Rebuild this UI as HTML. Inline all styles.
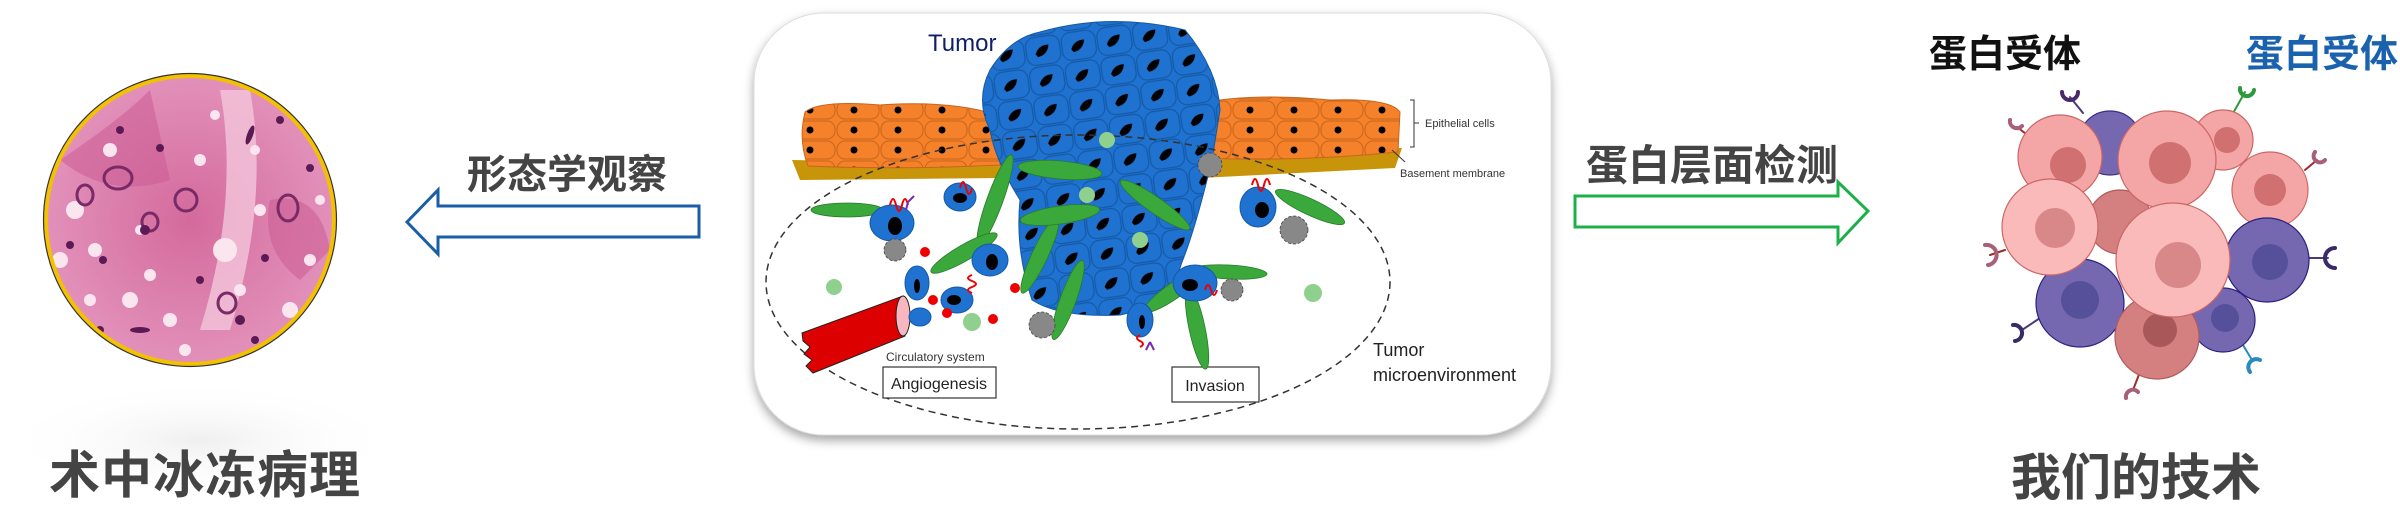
<!DOCTYPE html>
<html><head><meta charset="utf-8"><style>
html,body{margin:0;padding:0;background:#fff;}
body{width:2400px;height:522px;overflow:hidden;}
svg text{font-family:"Liberation Sans","Noto Sans CJK SC",sans-serif;}
</style></head><body>
<svg width="2400" height="522" viewBox="0 0 2400 522" xmlns="http://www.w3.org/2000/svg">
<defs>
<pattern id="tum" width="36" height="30" patternUnits="userSpaceOnUse" patternTransform="rotate(-8)">
<rect width="36" height="30" fill="#1f72d0"/>
<rect x="1" y="1" width="34" height="28" rx="9" fill="#1f72d0" stroke="#1559a6" stroke-width="1.2"/>
<path d="M10,18 Q14,9 24,10 Q22,20 12,21Z" fill="#000"/>
</pattern>
<pattern id="ora" width="44" height="20" patternUnits="userSpaceOnUse">
<rect width="44" height="20" fill="#f5822a"/>
<rect x="1" y="1" width="42" height="18" rx="8" fill="#f5822a" stroke="#c8651c" stroke-width="1"/>
<circle cx="18" cy="10" r="3.5" fill="#000"/>
</pattern>
<radialGradient id="tis" cx="0.5" cy="0.5" r="0.5">
<stop offset="0" stop-color="#d46a9c"/><stop offset="1" stop-color="#e291ba"/>
</radialGradient>
<clipPath id="cc"><circle cx="190" cy="220" r="144"/></clipPath>
<filter id="sh" x="-10%" y="-10%" width="120%" height="125%"><feDropShadow dx="0" dy="5" stdDeviation="5" flood-color="#000" flood-opacity="0.35"/></filter>
<radialGradient id="gsh" cx="0.5" cy="0.5" r="0.5"><stop offset="0" stop-color="#efefef"/><stop offset="1" stop-color="#fff" stop-opacity="0"/></radialGradient>
</defs>

<ellipse cx="200" cy="440" rx="200" ry="60" fill="url(#gsh)"/>
<circle cx="190" cy="220" r="146" fill="url(#tis)"/>
<g clip-path="url(#cc)">
<path d="M60,160 Q120,120 150,90 L170,180 Q110,200 60,160Z" fill="#c9588f" opacity="0.5"/>
<path d="M220,90 Q240,200 200,330 L230,330 Q270,200 250,90Z" fill="#f4c6db" opacity="0.8"/>
<path d="M270,200 Q320,190 330,250 L300,280 Q260,250 270,200Z" fill="#c9588f" opacity="0.5"/>
<g fill="#fbe6f0">
<circle cx="75" cy="210" r="9"/><circle cx="95" cy="250" r="7"/><circle cx="130" cy="300" r="8"/><circle cx="150" cy="275" r="6"/>
<circle cx="170" cy="320" r="7"/><circle cx="225" cy="250" r="12"/><circle cx="240" cy="290" r="6"/><circle cx="110" cy="150" r="7"/>
<circle cx="200" cy="160" r="6"/><circle cx="255" cy="150" r="5"/><circle cx="290" cy="310" r="8"/><circle cx="320" cy="200" r="5"/>
<circle cx="60" cy="260" r="8"/><circle cx="140" cy="230" r="5"/><circle cx="260" cy="210" r="6"/><circle cx="185" cy="350" r="6"/>
<circle cx="90" cy="300" r="6"/><circle cx="215" cy="115" r="5"/><circle cx="310" cy="260" r="6"/>
</g>
<g fill="none" stroke="#7a2a66" stroke-width="3">
<ellipse cx="118" cy="178" rx="14" ry="11"/><ellipse cx="186" cy="200" rx="11" ry="11"/><ellipse cx="288" cy="208" rx="10" ry="13"/>
<ellipse cx="85" cy="195" rx="8" ry="10"/><ellipse cx="227" cy="303" rx="9" ry="10"/><ellipse cx="150" cy="222" rx="8" ry="9"/>
</g>
<g fill="#5c1a55">
<circle cx="145" cy="230" r="5"/><circle cx="103" cy="260" r="4"/><circle cx="160" cy="148" r="4"/><circle cx="265" cy="258" r="4"/>
<circle cx="240" cy="320" r="5"/><circle cx="120" cy="130" r="4"/><circle cx="310" cy="168" r="4"/><circle cx="70" cy="245" r="4"/>
<circle cx="200" cy="280" r="4"/><circle cx="100" cy="330" r="4"/><circle cx="280" cy="120" r="4"/><circle cx="255" cy="340" r="4"/>
<ellipse cx="250" cy="135" rx="3" ry="10" transform="rotate(20 250 135)"/><ellipse cx="140" cy="330" rx="10" ry="3"/>
</g>
</g>
<circle cx="190" cy="220" r="144" fill="none" stroke="#f2c200" stroke-width="4"/>
<circle cx="190" cy="220" r="146.5" fill="none" stroke="#333" stroke-width="1.2"/>
<text x="205" y="493" text-anchor="middle" font-size="51" font-weight="bold" fill="#444" letter-spacing="1">术中冰冻病理</text>

<path d="M407,222 L438,190 L438,206 L699,206 L699,237 L438,237 L438,254 Z" fill="#fff" stroke="#1a5ea8" stroke-width="3"/>
<text x="567" y="188" text-anchor="middle" font-size="40" font-weight="bold" fill="#444">形态学观察</text>

<rect x="754" y="13" width="797" height="422" rx="70" fill="#fff" stroke="#ddd" stroke-width="1" filter="url(#sh)"/>
<text x="928" y="51" font-size="24" fill="#0d1f6a">Tumor</text>
<path d="M792,160 L1000,164 L1200,152 L1402,148 L1395,168 L1200,178 L1000,178 L800,180 Z" fill="#c8940a"/>
<path d="M805,112 Q820,100 880,105 Q950,100 998,115 L1000,165 Q900,170 808,166 Q798,140 805,112Z" fill="url(#ora)" stroke="#c8651c"/>
<path d="M1190,105 Q1250,92 1330,100 Q1390,98 1400,112 L1398,152 Q1300,162 1200,158 Z" fill="url(#ora)" stroke="#c8651c"/>
<path d="M1040,32 Q1110,12 1185,30 Q1218,70 1220,110 L1212,160 Q1195,230 1182,262 Q1170,305 1120,315 Q1060,318 1032,300 Q1015,250 1020,200 Q995,160 990,130 Q975,100 990,70 Q1010,38 1040,32Z" fill="url(#tum)" stroke="#1559a6"/>
<ellipse cx="1078" cy="282" rx="312" ry="147" fill="none" stroke="#333" stroke-width="1.5" stroke-dasharray="7,5"/>
<path d="M1410,100 L1414,100 L1414,147 L1410,147 M1414,123 L1419,123" stroke="#333" fill="none"/>
<text x="1425" y="127" font-size="11" fill="#333">Epithelial cells</text>
<path d="M1392,150 L1405,162" stroke="#333"/>
<text x="1400" y="177" font-size="11" fill="#333">Basement membrane</text>
<text x="1373" y="356" font-size="18" fill="#222">Tumor</text>
<text x="1373" y="381" font-size="18" fill="#222">microenvironment</text>
<text x="886" y="361" font-size="12" fill="#333">Circulatory system</text>
<rect x="883" y="367" width="113" height="31" fill="#fff" stroke="#333" stroke-width="1.2"/>
<text x="939" y="389" text-anchor="middle" font-size="16" fill="#222">Angiogenesis</text>
<rect x="1172" y="367" width="87" height="35" fill="#fff" stroke="#333" stroke-width="1.2"/>
<text x="1215" y="391" text-anchor="middle" font-size="16" fill="#222">Invasion</text>
<path d="M802,333 L903,296 L905,336 L813,373 L806,366 L812,360 L804,354 L810,347 L803,341 Z" fill="#dd0000" stroke="#222"/>
<ellipse cx="903" cy="316" rx="7" ry="20" fill="#f8b7c0" stroke="#222"/>
<g fill="#3aa83a" stroke="#2a7a2a" stroke-width="0.8">
<ellipse cx="847" cy="210" rx="36" ry="7"/>
<ellipse cx="995" cy="200" rx="8" ry="48" transform="rotate(20 995 200)"/>
<ellipse cx="1060" cy="170" rx="42" ry="9" transform="rotate(5 1060 170)"/>
<ellipse cx="1040" cy="255" rx="8" ry="42" transform="rotate(25 1040 255)"/>
<ellipse cx="1060" cy="215" rx="40" ry="9" transform="rotate(-8 1060 215)"/>
<ellipse cx="964" cy="253" rx="38" ry="8" transform="rotate(-30 964 253)"/>
<ellipse cx="1155" cy="205" rx="42" ry="8" transform="rotate(35 1155 205)"/>
<ellipse cx="1310" cy="207" rx="38" ry="8" transform="rotate(25 1310 207)"/>
<ellipse cx="1229" cy="272" rx="38" ry="7" transform="rotate(3 1229 272)"/>
<ellipse cx="1175" cy="290" rx="38" ry="8" transform="rotate(-35 1175 290)"/>
<ellipse cx="1197" cy="328" rx="8" ry="42" transform="rotate(-12 1197 328)"/>
<ellipse cx="1068" cy="300" rx="8" ry="42" transform="rotate(20 1068 300)"/>
</g>
<g fill="#1f72d0" stroke="#1559a6">
<ellipse cx="892" cy="223" rx="22" ry="18"/><ellipse cx="960" cy="197" rx="16" ry="14"/><ellipse cx="917" cy="283" rx="12" ry="17"/>
<ellipse cx="957" cy="300" rx="16" ry="13"/><ellipse cx="920" cy="317" rx="11" ry="9"/><ellipse cx="990" cy="260" rx="18" ry="16"/>
<ellipse cx="1258" cy="207" rx="18" ry="20"/><ellipse cx="1195" cy="283" rx="22" ry="18"/><ellipse cx="1140" cy="320" rx="13" ry="17"/>
</g>
<g fill="#000">
<ellipse cx="895" cy="226" rx="7" ry="9"/><ellipse cx="960" cy="198" rx="7" ry="5"/><ellipse cx="917" cy="286" rx="3" ry="7"/>
<ellipse cx="954" cy="300" rx="7" ry="5"/><ellipse cx="992" cy="262" rx="6" ry="8"/><ellipse cx="1262" cy="210" rx="7" ry="8"/>
<ellipse cx="1190" cy="285" rx="8" ry="6"/><ellipse cx="1142" cy="322" rx="3" ry="7"/>
</g>
<g fill="#e00">
<circle cx="925" cy="252" r="5"/><circle cx="933" cy="300" r="5"/><circle cx="947" cy="313" r="5"/><circle cx="993" cy="319" r="5"/><circle cx="1015" cy="288" r="5"/>
</g>
<g fill="#888" stroke="#444" stroke-width="0.8">
<circle cx="895" cy="250" r="11" stroke-dasharray="3,2"/><circle cx="1042" cy="325" r="13" stroke-dasharray="3,2"/>
<circle cx="1210" cy="165" r="12" stroke-dasharray="3,2"/><circle cx="1294" cy="230" r="14" stroke-dasharray="3,2"/><circle cx="1232" cy="290" r="11" stroke-dasharray="3,2"/>
</g>
<g fill="#8fd08f">
<circle cx="834" cy="287" r="8"/><circle cx="1313" cy="293" r="9"/><circle cx="972" cy="322" r="9"/><circle cx="1087" cy="195" r="8"/><circle cx="1140" cy="240" r="8"/><circle cx="1107" cy="140" r="8"/>
</g>
<g fill="none" stroke="#e00" stroke-width="2">
<path d="M890,205 q3,-12 6,0 q3,12 6,0 q3,-12 6,0"/><path d="M960,188 q3,-12 6,0 q3,12 6,0"/><path d="M1252,185 q3,-12 6,0 q3,12 6,0 q3,-12 6,0"/>
<path d="M972,275 q-8,3 0,6 q8,3 0,6 q-8,3 0,6"/><path d="M1140,335 q-6,3 0,6 q6,3 0,6"/><path d="M1205,290 q3,-10 6,0 q3,10 6,0"/>
</g>
<path d="M908,202 l6,-6 m-6,6 l-2,8" stroke="#7a2ab0" stroke-width="2" fill="none"/>
<path d="M1150,342 l-4,8 m4,-8 l4,8" stroke="#7a2ab0" stroke-width="2" fill="none"/>

<path d="M1575,196 L1838,196 L1838,182 L1868,211 L1838,243 L1838,227 L1575,227 Z" fill="#fff" stroke="#1db04a" stroke-width="3"/>
<text x="1712" y="180" text-anchor="middle" font-size="42" font-weight="bold" fill="#444">蛋白层面检测</text>

<text x="1929" y="67" font-size="38" font-weight="bold" fill="#111">蛋白受体</text>
<text x="2246" y="67" font-size="38" font-weight="bold" fill="#1a62ad">蛋白受体</text>
<text x="2136" y="495" text-anchor="middle" font-size="50" font-weight="bold" fill="#444">我们的技术</text>

<g fill="none" stroke-width="4" stroke-linecap="round">
<path d="M2083,113 L2070,97" stroke="#4a3a7a" stroke-width="2"/><path d="M2062,92 a8,8 0 0 0 16,0" stroke="#4a2a6a"/>
<path d="M2030,137 L2017,127" stroke="#a02a2a" stroke-width="2"/><path d="M2010,120 a7,7 0 0 0 12,6" stroke="#a86078"/>
<path d="M2232,115 L2245,92" stroke="#2a9a3a" stroke-width="2"/><path d="M2240,88 a7,7 0 0 0 14,2" stroke="#2a9a3a"/>
<path d="M2305,170 L2317,160" stroke="#a02a2a" stroke-width="2"/><path d="M2315,152 a6,6 0 0 0 10,8" stroke="#a86078"/>
<path d="M2005,250 L1990,255" stroke="#a02a2a" stroke-width="2"/><path d="M1985,245 a9,9 0 0 1 3,20" stroke="#a86078"/>
<path d="M2305,258 L2328,258" stroke="#4a3a7a" stroke-width="2"/><path d="M2335,248 a9,9 0 0 0 0,20" stroke="#3a2a6a"/>
<path d="M2040,318 L2022,330" stroke="#4a3a7a" stroke-width="2"/><path d="M2013,325 a8,8 0 0 1 2,16" stroke="#3a2a6a"/>
<path d="M2240,340 L2252,360" stroke="#2a8ac0" stroke-width="2"/><path d="M2250,372 a8,8 0 0 1 10,-12" stroke="#2a8ac0"/>
<path d="M2140,372 L2133,390" stroke="#a02a2a" stroke-width="2"/><path d="M2126,398 a7,7 0 0 1 12,-6" stroke="#a86078"/>
</g>
<g stroke-width="1.2">
<circle cx="2110" cy="143" r="32" fill="#7568b0" stroke="#3a2f88"/>
<circle cx="2223" cy="140" r="30" fill="#f4a5a5" stroke="#cc6666"/><circle cx="2227" cy="140" r="13" fill="#d07070"/>
<circle cx="2120" cy="222" r="32" fill="#d48080" stroke="#b05a5a"/>
<circle cx="2270" cy="190" r="38" fill="#f4a5a5" stroke="#cc6666"/><circle cx="2270" cy="190" r="16" fill="#d07070"/>
<circle cx="2060" cy="157" r="42" fill="#f4a5a5" stroke="#cc6666"/><circle cx="2068" cy="165" r="18" fill="#d07070"/>
<circle cx="2167" cy="160" r="49" fill="#f4a5a5" stroke="#cc6666"/><circle cx="2170" cy="163" r="21" fill="#d07070"/>
<circle cx="2267" cy="260" r="42" fill="#7568b0" stroke="#2a2080"/><circle cx="2270" cy="262" r="18" fill="#56509a"/>
<circle cx="2080" cy="303" r="44" fill="#7568b0" stroke="#2a2080"/><circle cx="2080" cy="300" r="19" fill="#56509a"/>
<circle cx="2223" cy="320" r="32" fill="#7568b0" stroke="#2a2080"/><circle cx="2225" cy="318" r="14" fill="#56509a"/>
<circle cx="2157" cy="337" r="42" fill="#d48080" stroke="#b05a5a"/><circle cx="2160" cy="330" r="17" fill="#a85858"/>
<circle cx="2050" cy="227" r="48" fill="#fbbaba" stroke="#cc6666"/><circle cx="2055" cy="228" r="20" fill="#d88888"/>
<circle cx="2173" cy="260" r="57" fill="#fbbaba" stroke="#cc6666"/><circle cx="2178" cy="265" r="23" fill="#d88888"/>
</g>
</svg>
</body></html>
